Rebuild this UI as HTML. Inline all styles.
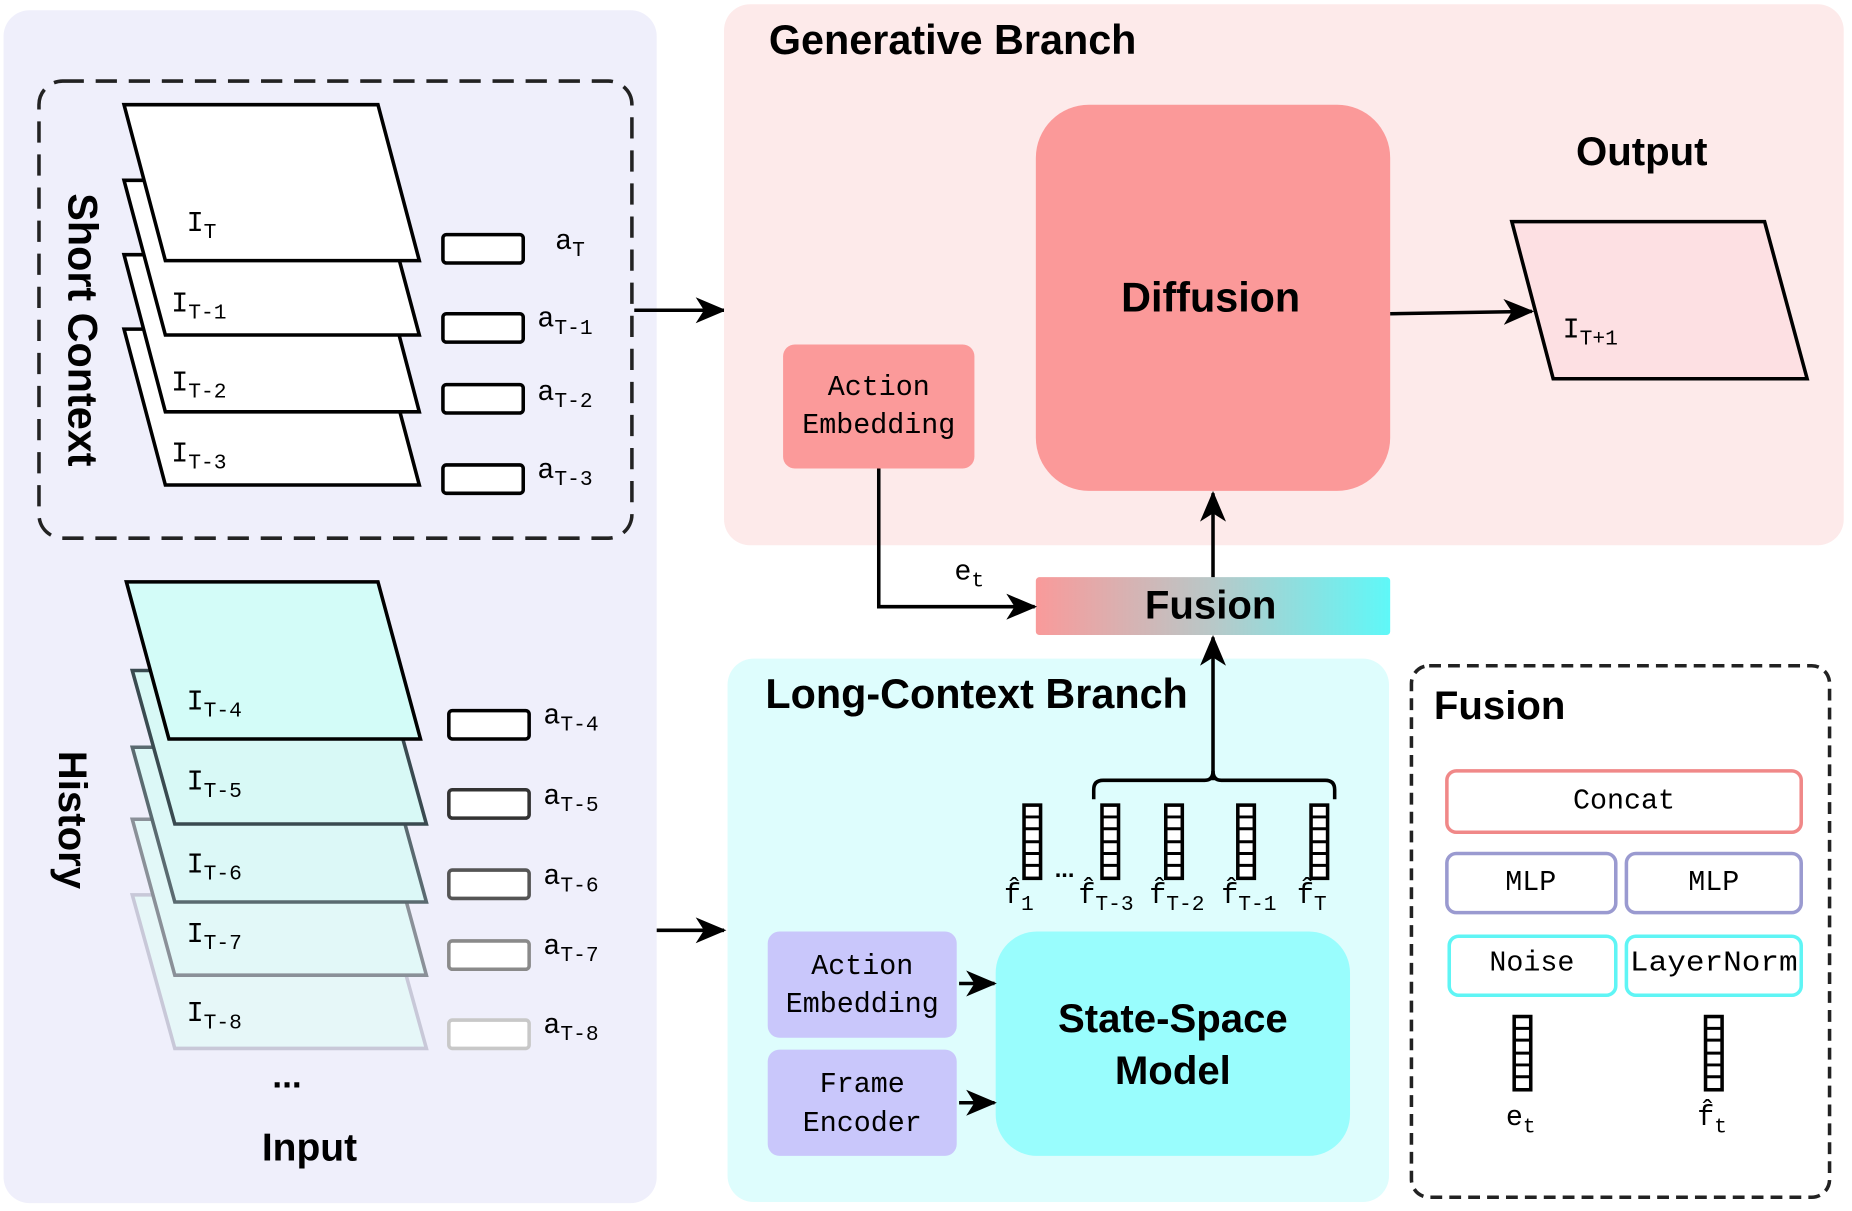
<!DOCTYPE html>
<html><head><meta charset="utf-8"><style>
html,body{margin:0;padding:0;background:#fff;}
svg{display:block}
.m{font-family:"Liberation Mono",monospace;font-size:24px;fill:#000}
.b{font-family:"Liberation Sans",sans-serif;font-weight:bold;fill:#000}
</style></head><body>
<svg width="1852" height="1211" viewBox="0 0 1568 1024" xmlns="http://www.w3.org/2000/svg">
<defs>
<marker id="ar2" markerWidth="26" markerHeight="26" refX="24" refY="13" orient="auto" markerUnits="userSpaceOnUse" viewBox="0 0 26 26"><path d="M0,2 L26,13 L0,24 L7,13 z" fill="#000"/></marker>
<linearGradient id="fg" x1="0" x2="1" y1="0" y2="0"><stop offset="0" stop-color="#f99a9a"/><stop offset="0.5" stop-color="#b8c8c8"/><stop offset="1" stop-color="#5ff8f8"/></linearGradient>
<g id="vec"><rect x="0" y="0" width="14" height="62" fill="#fff" stroke="#000" stroke-width="3"/><line x1="0" x2="14" y1="10" y2="10" stroke="#000" stroke-width="2.5"/><line x1="0" x2="14" y1="20" y2="20" stroke="#000" stroke-width="2.5"/><line x1="0" x2="14" y1="31" y2="31" stroke="#000" stroke-width="2.5"/><line x1="0" x2="14" y1="41" y2="41" stroke="#000" stroke-width="2.5"/><line x1="0" x2="14" y1="51" y2="51" stroke="#000" stroke-width="2.5"/></g>
</defs>
<!-- Left panel -->
<rect x="3" y="8" width="553" height="1010" rx="22" fill="#efeffb"/>
<rect x="33" y="68" width="502" height="387" rx="20" fill="none" stroke="#222" stroke-width="3" stroke-dasharray="18,10"/>
<text class="b" font-size="35" transform="translate(58,163) rotate(90)">Short Context</text>
<g stroke="#000" stroke-width="3" fill="#fff">
<polygon points="105,278 320,278 355,410 140,410"/>
<polygon points="105,215 320,215 355,348 140,348"/>
<polygon points="105,152 320,152 355,283 140,283"/>
<polygon points="105,88 320,88 355,220 140,220"/>
<rect x="375" y="198" width="68" height="24" rx="3"/>
<rect x="375" y="265" width="68" height="24" rx="3"/>
<rect x="375" y="325" width="68" height="24" rx="3"/>
<rect x="375" y="393" width="68" height="24" rx="3"/>
</g>
<text class="m" x="158" y="195">I<tspan font-size="18" dy="6">T</tspan></text>
<text class="m" x="145" y="263">I<tspan font-size="18" dy="6">T-1</tspan></text>
<text class="m" x="145" y="330">I<tspan font-size="18" dy="6">T-2</tspan></text>
<text class="m" x="145" y="390">I<tspan font-size="18" dy="6">T-3</tspan></text>
<text class="m" x="470" y="210">a<tspan font-size="18" dy="6">T</tspan></text>
<text class="m" x="455" y="276">a<tspan font-size="18" dy="6">T-1</tspan></text>
<text class="m" x="455" y="338">a<tspan font-size="18" dy="6">T-2</tspan></text>
<text class="m" x="455" y="404">a<tspan font-size="18" dy="6">T-3</tspan></text>
<line x1="537" y1="262" x2="613" y2="262" stroke="#000" stroke-width="3" marker-end="url(#ar2)"/>
<!-- History -->
<text class="b" font-size="34" transform="translate(50,635) rotate(90)">History</text>
<g stroke-width="3">
<polygon points="112,757 325,757 361,887 148,887" stroke="#c8c8d8" fill="#e6f7f8"/>
<polygon points="112,693 325,693 361,825 148,825" stroke="#8a9098" fill="#e2f8f8"/>
<polygon points="112,632 325,632 361,763 148,763" stroke="#5a6a70" fill="#dcf8f7"/>
<polygon points="112,567 325,567 361,697 148,697" stroke="#3a4a50" fill="#d8f9f6"/>
<polygon points="107,492 320,492 356,625 143,625" stroke="#000" fill="#d3fcf8"/>
</g>
<g fill="#fff" stroke-width="3">
<rect x="380" y="601" width="68" height="24" rx="3" stroke="#000"/>
<rect x="380" y="668" width="68" height="24" rx="3" stroke="#333"/>
<rect x="380" y="736" width="68" height="24" rx="3" stroke="#555"/>
<rect x="380" y="796" width="68" height="24" rx="3" stroke="#8a8a8a"/>
<rect x="380" y="863" width="68" height="24" rx="3" stroke="#c8c8c8"/>
</g>
<text class="m" x="158" y="600">I<tspan font-size="18" dy="6">T-4</tspan></text>
<text class="m" x="158" y="668">I<tspan font-size="18" dy="6">T-5</tspan></text>
<text class="m" x="158" y="738">I<tspan font-size="18" dy="6">T-6</tspan></text>
<text class="m" x="158" y="797">I<tspan font-size="18" dy="6">T-7</tspan></text>
<text class="m" x="158" y="864">I<tspan font-size="18" dy="6">T-8</tspan></text>
<text class="m" x="460" y="612">a<tspan font-size="18" dy="6">T-4</tspan></text>
<text class="m" x="460" y="680">a<tspan font-size="18" dy="6">T-5</tspan></text>
<text class="m" x="460" y="748">a<tspan font-size="18" dy="6">T-6</tspan></text>
<text class="m" x="460" y="807">a<tspan font-size="18" dy="6">T-7</tspan></text>
<text class="m" x="460" y="874">a<tspan font-size="18" dy="6">T-8</tspan></text>
<text class="b" font-size="30" x="243" y="920" text-anchor="middle">...</text>
<text class="b" font-size="33" x="262" y="982" text-anchor="middle">Input</text>
<line x1="556" y1="787" x2="613" y2="787" stroke="#000" stroke-width="3" marker-end="url(#ar2)"/>
<!-- Generative -->
<rect x="613" y="3" width="948" height="458" rx="22" fill="#fdeaea"/>
<text class="b" font-size="35" x="651" y="45">Generative Branch</text>
<rect x="877" y="88" width="300" height="327" rx="45" fill="#fb9999"/>
<text class="b" font-size="35" x="1025" y="263" text-anchor="middle">Diffusion</text>
<rect x="663" y="291" width="162" height="105" rx="10" fill="#fb9a9a"/>
<text class="m" x="744" y="334" text-anchor="middle">Action</text>
<text class="m" x="744" y="366" text-anchor="middle">Embedding</text>
<text class="b" font-size="34" x="1390" y="139" text-anchor="middle">Output</text>
<polygon points="1280,187 1494,187 1530,320 1315,320" fill="#fde0e3" stroke="#000" stroke-width="3"/>
<text class="m" x="1323" y="285">I<tspan font-size="18" dy="6">T+1</tspan></text>
<path d="M1177,265 L1297,263" stroke="#000" stroke-width="3" fill="none" marker-end="url(#ar2)"/>
<!-- Fusion bar -->
<rect x="877" y="488" width="300" height="49" rx="3" fill="url(#fg)"/>
<text class="b" font-size="34" x="1025" y="523" text-anchor="middle">Fusion</text>
<path d="M744,396 L744,513 L876,513" stroke="#000" stroke-width="3" fill="none" marker-end="url(#ar2)"/>
<text class="m" x="808" y="490">e<tspan font-size="18" dy="6">t</tspan></text>
<line x1="1027" y1="488" x2="1027" y2="417" stroke="#000" stroke-width="3" marker-end="url(#ar2)"/>
<!-- Long context -->
<rect x="616" y="557" width="560" height="460" rx="22" fill="#defdfd"/>
<text class="b" font-size="35" x="648" y="599">Long-Context Branch</text>
<path d="M926,676 L926,668 Q926,660 934,660 L1020,660 Q1027,660 1027,652 Q1027,660 1034,660 L1122,660 Q1130,660 1130,668 L1130,676" stroke="#000" stroke-width="3" fill="none"/>
<line x1="1027" y1="660" x2="1027" y2="539" stroke="#000" stroke-width="3" marker-end="url(#ar2)"/>
<use href="#vec" x="867" y="681"/><use href="#vec" x="933" y="681"/><use href="#vec" x="987" y="681"/><use href="#vec" x="1048" y="681"/><use href="#vec" x="1110" y="681"/>
<text class="b" font-size="20" x="893" y="742">...</text>
<text class="m" x="850" y="764">f̂<tspan font-size="18" dy="6">1</tspan></text>
<text class="m" x="913" y="764">f̂<tspan font-size="18" dy="6">T-3</tspan></text>
<text class="m" x="973" y="764">f̂<tspan font-size="18" dy="6">T-2</tspan></text>
<text class="m" x="1034" y="764">f̂<tspan font-size="18" dy="6">T-1</tspan></text>
<text class="m" x="1098" y="764">f̂<tspan font-size="18" dy="6">T</tspan></text>
<rect x="650" y="788" width="160" height="90" rx="10" fill="#c9c7fb"/>
<text class="m" x="730" y="824" text-anchor="middle">Action</text>
<text class="m" x="730" y="856" text-anchor="middle">Embedding</text>
<rect x="650" y="888" width="160" height="90" rx="10" fill="#c9c7fb"/>
<text class="m" x="730" y="924" text-anchor="middle">Frame</text>
<text class="m" x="730" y="957" text-anchor="middle">Encoder</text>
<rect x="843" y="788" width="300" height="190" rx="35" fill="#99fdfd"/>
<text class="b" font-size="34" x="993" y="873" text-anchor="middle">State-Space</text>
<text class="b" font-size="34" x="993" y="917" text-anchor="middle">Model</text>
<line x1="812" y1="832" x2="842" y2="832" stroke="#000" stroke-width="3" marker-end="url(#ar2)"/>
<line x1="812" y1="933" x2="842" y2="933" stroke="#000" stroke-width="3" marker-end="url(#ar2)"/>
<!-- Fusion inset -->
<rect x="1195" y="563" width="354" height="450" rx="15" fill="none" stroke="#222" stroke-width="3" stroke-dasharray="10,6"/>
<text class="b" font-size="34" x="1214" y="608">Fusion</text>
<rect x="1225" y="652" width="300" height="52" rx="8" fill="#fff" stroke="#f08888" stroke-width="3"/>
<text class="m" x="1375" y="684" text-anchor="middle">Concat</text>
<rect x="1225" y="722" width="143" height="50" rx="8" fill="#fff" stroke="#9a9ad0" stroke-width="3"/>
<text class="m" x="1296" y="753" text-anchor="middle">MLP</text>
<rect x="1377" y="722" width="148" height="50" rx="8" fill="#fff" stroke="#9a9ad0" stroke-width="3"/>
<text class="m" x="1451" y="753" text-anchor="middle">MLP</text>
<rect x="1227" y="792" width="141" height="50" rx="8" fill="#fff" stroke="#5ff5f5" stroke-width="3"/>
<text class="m" x="1297" y="821" text-anchor="middle">Noise</text>
<rect x="1377" y="792" width="148" height="50" rx="8" fill="#fff" stroke="#5ff5f5" stroke-width="3"/>
<text class="m" x="1451" y="821" text-anchor="middle" textLength="142" lengthAdjust="spacingAndGlyphs">LayerNorm</text>
<use href="#vec" x="1282" y="860"/><use href="#vec" x="1444" y="860"/>
<text class="m" x="1275" y="952">e<tspan font-size="18" dy="6">t</tspan></text>
<text class="m" x="1437" y="952">f̂<tspan font-size="18" dy="6">t</tspan></text>
</svg>
</body></html>
